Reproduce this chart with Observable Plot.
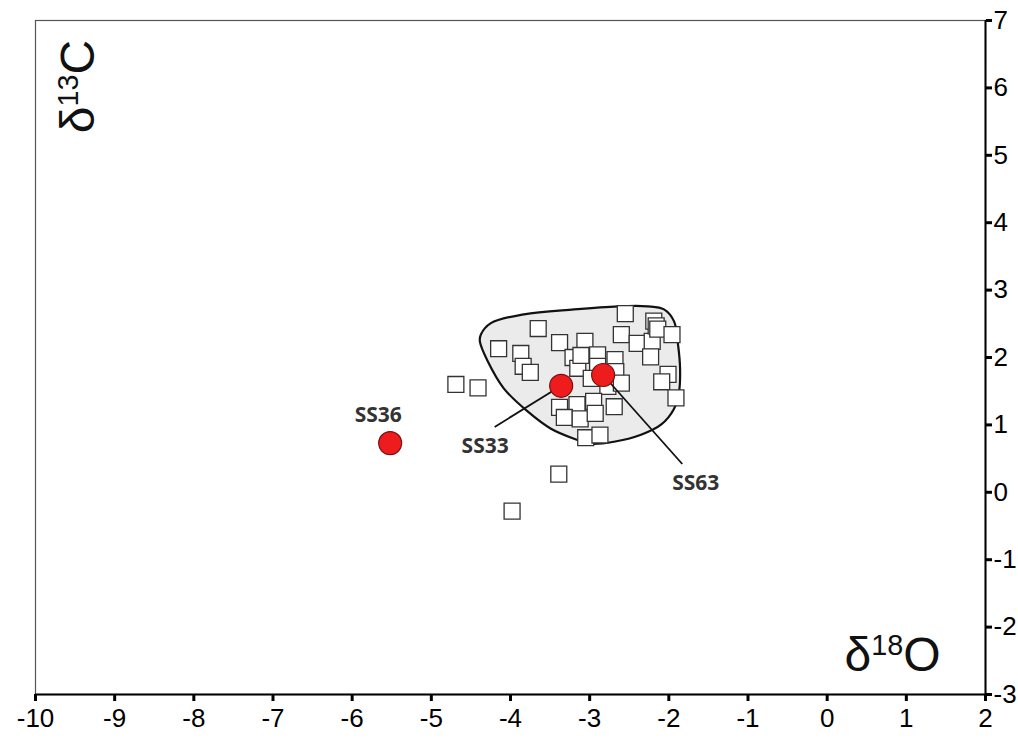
<!DOCTYPE html>
<html><head><meta charset="utf-8">
<script src="https://cdn.jsdelivr.net/npm/d3@7"></script>
<script src="https://cdn.jsdelivr.net/npm/@observablehq/plot@0.6"></script>
<style>body{margin:0;background:#fff}</style>
</head><body><div id="chart"></div>
<script>
// Open squares: other samples (δ18O, δ13C)
const sampleX = [-4.69,-4.41,-4.15,-3.65,-3.87,-3.84,-3.75,-3.38,-3.06,-3.21,-3.15,-3.11,-2.90,-2.68,-2.67,-2.55,-2.60,-2.40,-2.21,-2.23,-2.19,-2.16,-2.14,-1.96,-2.01,-2.09,-1.91,-2.90,-2.98,-2.77,-2.60,-3.38,-3.16,-2.95,-2.69,-3.32,-3.12,-2.93,-3.05,-2.87,-3.39,-3.98];
const sampleY = [1.60,1.55,2.13,2.43,2.06,1.87,1.78,2.22,2.24,2.00,1.84,2.03,2.04,1.97,1.79,2.65,2.34,2.21,2.24,2.01,2.54,2.47,2.42,2.34,1.75,1.64,1.40,1.87,1.69,1.57,1.62,1.26,1.30,1.35,1.27,1.11,1.09,1.17,0.81,0.85,0.27,-0.28];
// Grey field outline
const hullX = [-4.374,-4.248,-3.831,-3.198,-2.642,-2.267,-2.061,-1.934,-1.884,-1.858,-1.871,-1.934,-2.099,-2.351,-2.693,-2.984,-3.198,-3.489,-3.780,-4.083,-4.286,-4.387];
const hullY = [2.342,2.510,2.640,2.714,2.759,2.759,2.714,2.536,2.193,1.836,1.494,1.241,1.003,0.854,0.750,0.720,0.795,0.943,1.196,1.539,1.940,2.238];
// Red circles
const keyNames = ["SS36","SS33","SS63"];
const keyX = [-5.52,-3.36,-2.83];
const keyY = [0.73,1.58,1.74];
const labelX = [-5.67,-4.32,-1.66];
const labelY = [1.15,0.68,0.13];
// leader lines (SS33, SS63)
const leadX1 = [-4.20,-2.83];
const leadY1 = [0.97,1.74];
const leadX2 = [-3.36,-1.83];
const leadY2 = [1.58,0.42];
// axes
const xTicks = [-10,-9,-8,-7,-6,-5,-4,-3,-2,-1,0,1,2];
const yTicks = [-3,-2,-1,0,1,2,3,4,5,6,7];
const xTitle = "δ18O";
const yTitle = "δ13C";

const samples = sampleX.map((x,i)=>({x, y: sampleY[i]}));
const hull = hullX.map((x,i)=>({x, y: hullY[i]}));
const keys = keyNames.map((n,i)=>({n, x: keyX[i], y: keyY[i], lx: labelX[i], ly: labelY[i]}));
const leads = leadX1.map((x,i)=>({x1:x, y1:leadY1[i], x2:leadX2[i], y2:leadY2[i]}));

const font = "'Liberation Sans', Arial, sans-serif";
const svg = Plot.plot({
  width: 1018, height: 738,
  marginLeft: 35, marginRight: 33, marginTop: 20, marginBottom: 44,
  style: {fontFamily: font, background: "#fff", color: "#000"},
  x: {domain: [-10, 2]},
  y: {domain: [-3, 7]},
  marks: [
    Plot.frame({stroke: "#555", strokeWidth: 1.2}),
    Plot.line(hull, {x: "x", y: "y", curve: "catmull-rom-closed", fill: "#ebebeb", stroke: "#111", strokeWidth: 2.2}),
    Plot.dot(samples, {x: "x", y: "y", symbol: "square", r: 9, fill: "#fff", stroke: "#333", strokeWidth: 1.3}),
    Plot.link(leads, {x1: "x1", y1: "y1", x2: "x2", y2: "y2", stroke: "#111", strokeWidth: 1.8}),
    Plot.dot(keys, {x: "x", y: "y", r: 11.5, fill: "#ee1c1c", stroke: "#7a1010", strokeWidth: 1.2}),
    Plot.text(keys, {x: "lx", y: "ly", text: "n", fontSize: 21, fontWeight: 700, fill: "#333", fontFamily: "'Open Sans', sans-serif"}),
    Plot.ruleY([-3], {stroke: "#000", strokeWidth: 2}),
    Plot.ruleX([2], {stroke: "#000", strokeWidth: 2}),
    Plot.axisX(xTicks, {anchor: "bottom", tickSize: 7, tickPadding: 7, fontSize: 26, strokeWidth: 3, label: null, tickFormat: d => String(d)}),
    Plot.axisY(yTicks, {anchor: "right", tickSize: 6, tickPadding: 2, fontSize: 26, strokeWidth: 3, label: null, tickFormat: d => String(d)}),
    Plot.text([yTitle], {text: d => d, frameAnchor: "top-left", dx: 43, dy: 66, rotate: -90, textAnchor: "middle", lineAnchor: "middle", fontSize: 48, fill: "#111", className: "ytitle"}),
    Plot.text([xTitle], {text: d => d, frameAnchor: "bottom-right", dx: -45, dy: -24, fontSize: 48, fill: "#111", className: "xtitle"})
  ]
});
// superscripts
d3.select(svg).selectAll(".ytitle text, .xtitle text").each(function() {
  const t = this.textContent;
  const sel = d3.select(this);
  sel.text(null);
  sel.append("tspan").text(t[0]);
  sel.append("tspan").attr("baseline-shift", "super").attr("font-size", "0.6em").text(t.slice(1, 3));
  sel.append("tspan").text(t.slice(3));
});
document.getElementById("chart").appendChild(svg);
</script>
</body></html>
